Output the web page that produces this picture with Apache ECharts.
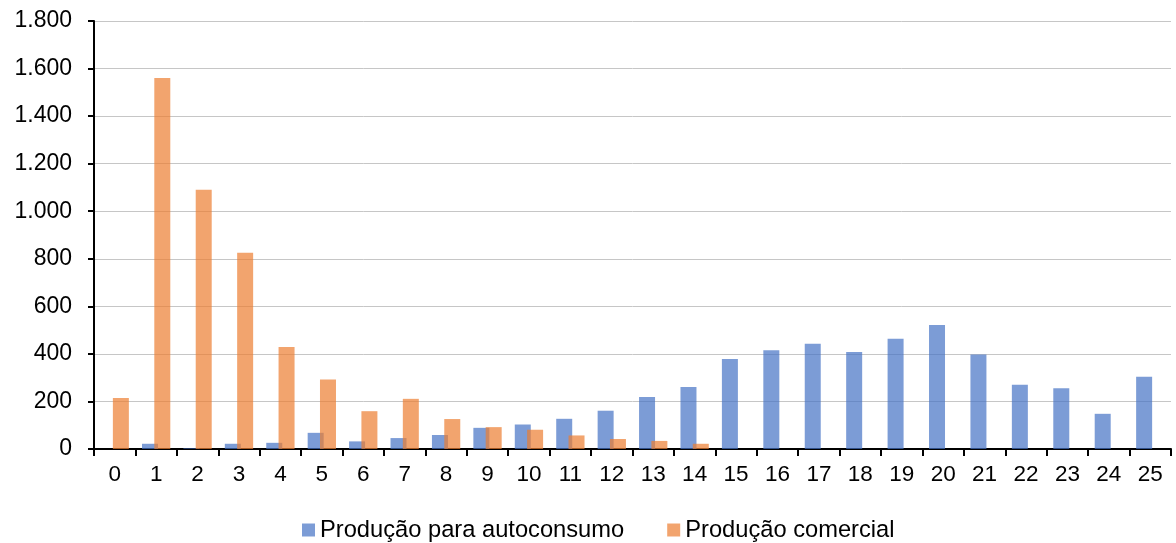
<!DOCTYPE html>
<html>
<head>
<meta charset="utf-8">
<script src="https://cdn.jsdelivr.net/npm/echarts@6/dist/echarts.min.js"></script>
<style>html,body{margin:0;padding:0;background:#fff}#c{width:1176px;height:543px}</style>
</head>
<body>
<div id="c"></div>
<script>
const categories = ['0','1','2','3','4','5','6','7','8','9','10','11','12','13','14','15','16','17','18','19','20','21','22','23','24','25'];
const autoconsumo = [0,22,3,22,26,68,32,46,59,89,103,127,161,219,261,379,415,443,408,464,522,397,270,256,148,304];
const comercial = [215,1560,1090,825,429,292,159,211,126,92,81,57,42,34,22,0,0,0,0,0,0,0,0,0,0,0];
const seriesNames = ['Produção para autoconsumo','Produção comercial'];

const chart = echarts.init(document.getElementById('c'));
const fontFamily = 'Liberation Sans, Arial, sans-serif';
chart.setOption({
  animation: false,
  textStyle: {fontFamily},
  grid: {left: 94, right: 5, top: 21, bottom: 94, containLabel: false},
  legend: {
    left: 302, top: 518, padding: 0,
    itemWidth: 13, itemHeight: 13, itemGap: 43,
    icon: 'rect',
    textStyle: {fontSize: 23.7, color: '#000', fontFamily},
    data: seriesNames
  },
  xAxis: {
    type: 'category', data: categories,
    axisLine: {lineStyle: {color: '#000', width: 2}},
    axisTick: {show: true, length: 7, lineStyle: {color: '#000', width: 2}},
    axisLabel: {fontSize: 22.5, color: '#000', margin: 14, fontFamily}
  },
  yAxis: {
    type: 'value', min: 0, max: 1800, interval: 200,
    axisLine: {show: true, lineStyle: {color: '#000', width: 2}},
    axisTick: {show: true, length: 6, lineStyle: {color: '#000', width: 2}},
    splitLine: {lineStyle: {color: '#c6c6c6', width: 1}},
    axisLabel: {fontSize: 23, color: '#000', margin: 22, fontFamily,
      formatter: v => String(v).replace(/\B(?=(\d{3})+(?!\d))/g, '.')}
  },
  series: [
    {name: seriesNames[0], type: 'bar', data: autoconsumo, barWidth: 16, barGap: '-23%',
     itemStyle: {color: 'rgba(68,114,196,0.7)', borderWidth: 0}},
    {name: seriesNames[1], type: 'bar', data: comercial, barWidth: 16, barGap: '-23%',
     itemStyle: {color: 'rgba(237,125,49,0.7)', borderWidth: 0}}
  ]
});
</script>
</body>
</html>
